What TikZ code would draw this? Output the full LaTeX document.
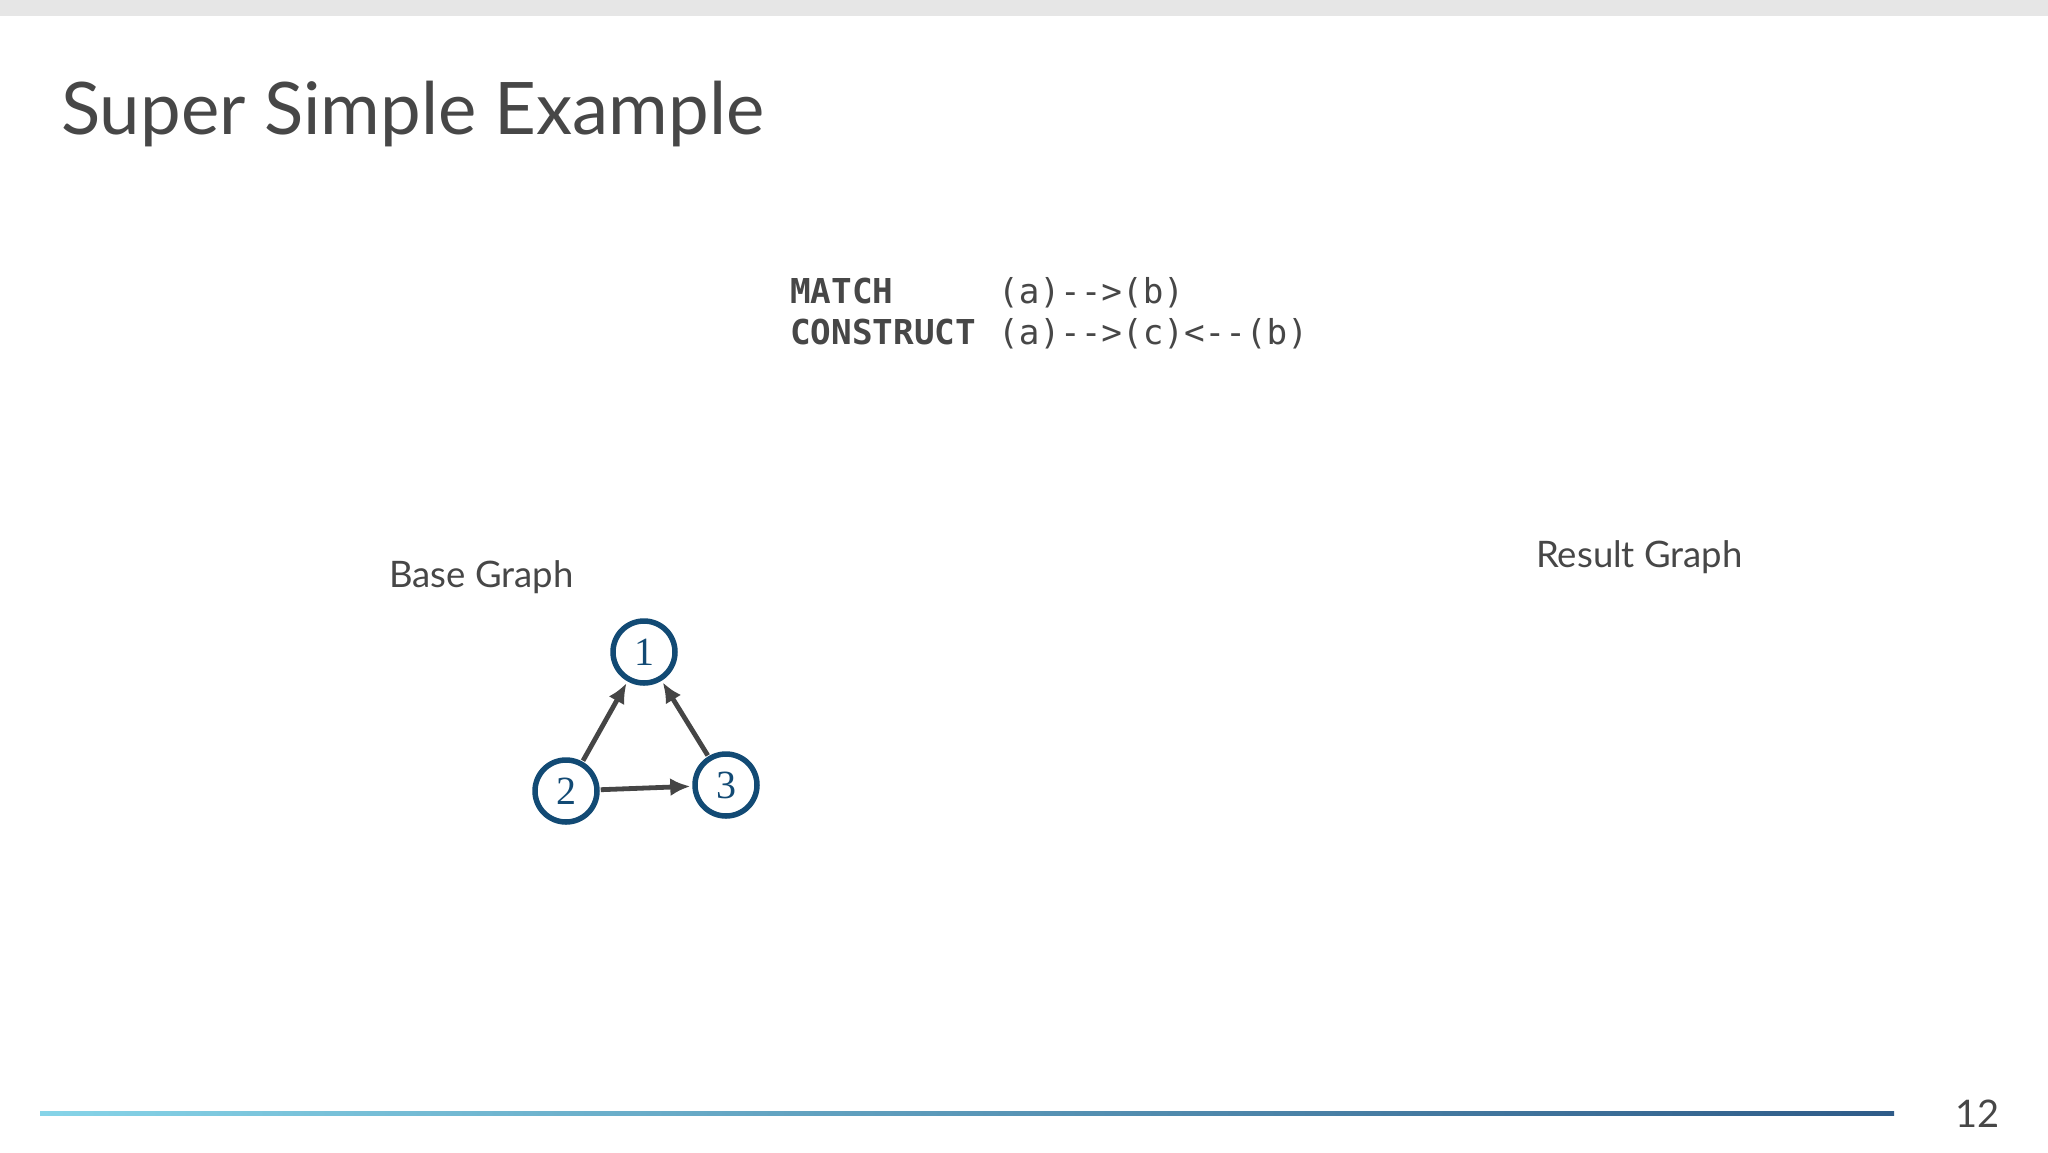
\documentclass[tikz,border=0pt]{standalone}
\usepackage{fontspec}
\setmainfont{Lato}
\newfontfamily\codefont{DejaVu Sans Mono}
\newfontfamily\numfont{Liberation Serif}
\usetikzlibrary{arrows.meta}
\definecolor{txtgray}{HTML}{474747}
\definecolor{nodeblue}{HTML}{124A74}
\definecolor{edgegray}{HTML}{454545}
\definecolor{barleft}{HTML}{86D4E8}
\definecolor{barright}{HTML}{2E5B88}
\definecolor{topbar}{HTML}{E6E6E6}
\tikzset{
  gnode/.style={circle, draw=nodeblue, line width=5.5pt, minimum size=62pt, inner sep=0pt,
    text=nodeblue, font=\numfont\fontsize{40}{40}\selectfont, fill=white},
  gedge/.style={draw=edgegray, line width=4.8pt, -{Latex[length=20pt,width=18pt]}, shorten >=2pt, shorten <=1pt},
  label text/.style={text=txtgray, font=\fontsize{36.5}{42}\selectfont, inner sep=0pt, anchor=base west},
  code/.style={text=txtgray, font=\codefont\fontsize{34.3}{40}\selectfont, inner sep=0pt, anchor=base west}
}
\begin{document}
\begin{tikzpicture}[x=1pt, y=-1pt]
\useasboundingbox (0,0) rectangle (2048,1152);
\fill[white] (0,0) rectangle (2048,1152);
\fill[topbar] (0,0) rectangle (2048,16);
% title
\node[text=txtgray, font=\fontsize{72.5}{80}\selectfont, inner sep=0pt, anchor=base west] (title) at (61,134) {Super Simple Example};
% code
\node[code] (kw1) at (790,303) {\textbf{MATCH}};
\node[code] (q1) at (998,303) {(a)-->(b)};
\node[code] (kw2) at (790,344) {\textbf{CONSTRUCT}};
\node[code] (q2) at (998,344) {(a)-->(c)<--(b)};
% labels
\node[label text] (base) at (389,587) {Base Graph};
\node[label text] (result) at (1536,567) {Result Graph};
% graph
\node[gnode] (n1) at (644,652) {1};
\node[gnode] (n2) at (566,791) {2};
\node[gnode] (n3) at (726,785) {3};
\draw[gedge] (n2) -- (n1);
\draw[gedge] (n3) -- (n1);
\draw[gedge] (n2) -- (n3);
% bottom bar
\shade[left color=barleft, right color=barright] (40,1111.5) rectangle (1894,1115.5);
\node[text=txtgray, font=\fontsize{38}{40}\selectfont, inner sep=0pt, anchor=base west] (page) at (1955,1127) {12};
\end{tikzpicture}
\end{document}
